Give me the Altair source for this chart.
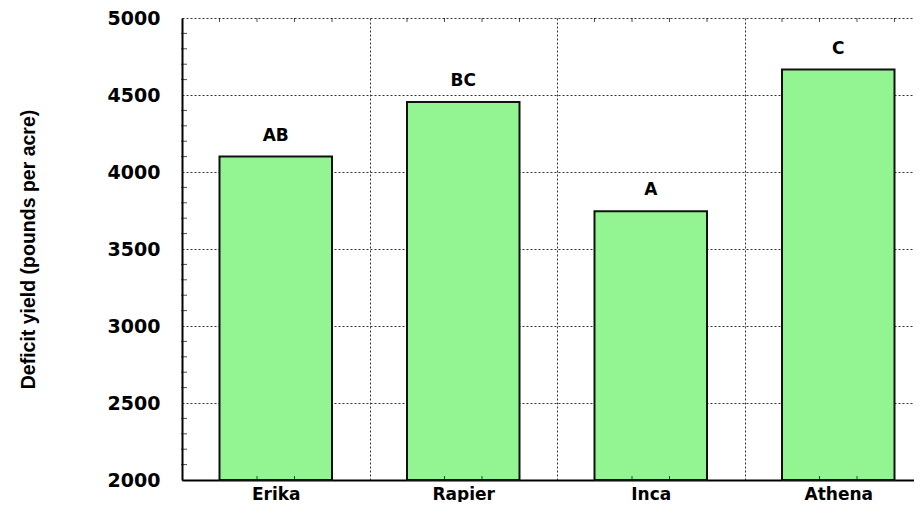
import altair as alt
import pandas as pd

varieties = ["Erika", "Rapier", "Inca", "Athena"]
yields = [4100, 4455, 3745, 4665]
letters = ["AB", "BC", "A", "C"]
y_ticks = [2000, 2500, 3000, 3500, 4000, 4500, 5000]
y_minor = [v for v in range(2100, 5000, 100) if v % 500 != 0]
x_minor = [v for v in range(1, 20) if v % 5 != 0]

W, H = 750, 462

df = pd.DataFrame({"variety": varieties, "yield": yields, "letter": letters})
df_ym = pd.DataFrame({"yield": y_minor})
df_xm = pd.DataFrame({"m": x_minor})

xscale = alt.Scale(domain=varieties, paddingInner=0, paddingOuter=0)
yscale = alt.Scale(domain=[2000, 5000], nice=False, zero=False)

GRID = dict(grid=True, gridColor="#333333", gridDash=[2, 2], gridWidth=1)

x_axis = alt.Axis(
    title=None, labelFont="DejaVu Sans", labelFontSize=17, labelFontWeight="bold",
    labelColor="black", labelPadding=6, labelAngle=0, ticks=False, tickSize=0,
    domainColor="black", domainWidth=2, tickBand="extent", **GRID,
)
y_axis = alt.Axis(
    values=y_ticks, format="d", labelFont="DejaVu Sans", labelFontSize=19,
    labelFontWeight="bold", labelColor="black", labelPadding=22, ticks=False,
    tickSize=0, domainColor="black", domainWidth=2,
    title="Deficit yield (pounds per acre)", titleFont="Liberation Sans",
    titleFontSize=19.5, titleFontWeight="bold", titleColor="black",
    titleX=-148, titleY=H / 2, titleAngle=270, titleAlign="center",
    titleBaseline="alphabetic", **GRID,
)

bars = alt.Chart(df).mark_bar(
    color="#92f592", stroke="#111111", strokeWidth=2, width=alt.RelativeBandSize(0.6)
).encode(
    x=alt.X("variety:N", scale=xscale, sort=varieties, axis=x_axis),
    y=alt.Y("yield:Q", scale=yscale, axis=y_axis, stack=None),
)

text = alt.Chart(df).mark_text(
    font="DejaVu Sans", fontSize=17, fontWeight="bold", baseline="alphabetic",
    dy=-16, color="black",
).encode(
    x=alt.X("variety:N", sort=varieties),
    y=alt.Y("yield:Q"),
    text="letter:N",
)

y_minor_ticks = alt.Chart(df_ym).mark_tick(
    orient="horizontal", size=6, thickness=1, color="black"
).encode(
    y=alt.Y("yield:Q"),
    x=alt.value(2),
)

inner = alt.layer(bars, text, y_minor_ticks)

mscale = alt.Scale(domain=[0, 20], nice=False, zero=False)

x_minor_top = alt.Chart(df_xm).mark_tick(
    orient="vertical", size=4, thickness=1, color="black"
).encode(
    x=alt.X("m:Q", scale=mscale, axis=None),
    y=alt.value(2),
)

x_minor_bottom = alt.Chart(df_xm).mark_tick(
    orient="vertical", size=4, thickness=1, color="black"
).encode(
    x=alt.X("m:Q", scale=mscale, axis=None),
    y=alt.value(H - 2),
)

chart = alt.layer(inner, x_minor_top, x_minor_bottom).resolve_scale(
    x="independent"
).properties(
    width=W, height=H,
    autosize=alt.AutoSizeParams(type="none"),
    padding={"left": 174, "top": 10, "right": -18, "bottom": 22},
    background="white",
).configure_view(strokeWidth=0)

chart.save("out.html", embed_options={"renderer": "svg", "actions": False})
